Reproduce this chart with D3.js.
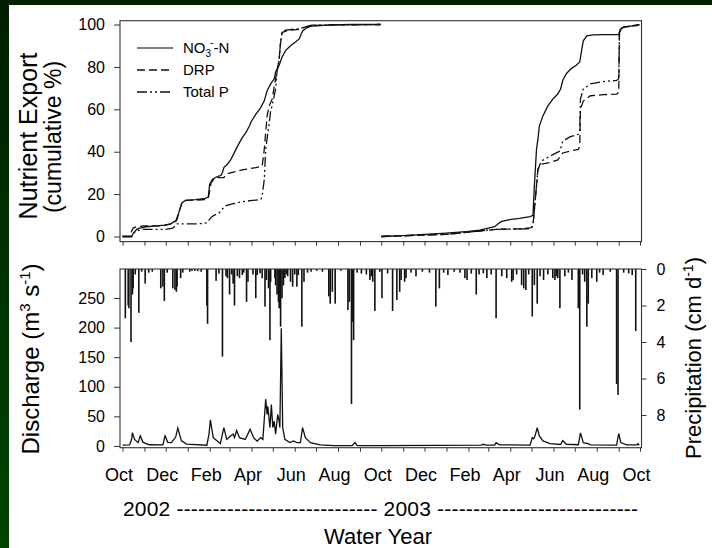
<!DOCTYPE html>
<html><head><meta charset="utf-8">
<script src="https://cdn.jsdelivr.net/npm/d3@7/dist/d3.min.js"></script>
<style>
html,body{margin:0;padding:0;background:#002a00;}
svg{display:block;font-family:"Liberation Sans",Arial,sans-serif;}
</style></head>
<body>
<svg id="c" width="712" height="548"></svg>
<script>
// ---------------- DATA ----------------
const monthTickLabels = ["Oct","Dec","Feb","Apr","Jun","Aug","Oct","Dec","Feb","Apr","Jun","Aug","Oct"];
const yearRowLabel = "2002 ---------------------------- 2003 ----------------------------";
const exportTicks = [0,20,40,60,80,100];
const dischargeTicks = [0,50,100,150,200,250];
const precipTicks = [0,2,4,6,8];
const seriesNames = ["NO3-N","DRP","Total P"];

const no3_2002 = [["2001-10-01",0],["2001-10-14",0],["2001-10-16",1.4],["2001-10-21",3.4],["2001-10-25",4],["2001-11-03",4.6],["2001-11-17",5],["2001-11-29",5.4],["2001-12-08",6],["2001-12-13",7],["2001-12-17",8],["2001-12-20",12],["2001-12-24",16],["2001-12-29",17],["2002-01-12",17.4],["2002-01-26",18],["2002-01-30",18.6],["2002-02-01",24.7],["2002-02-05",27],["2002-02-12",28.3],["2002-02-17",28.9],["2002-02-19",30.2],["2002-02-21",32.5],["2002-02-26",34.1],["2002-03-03",36.4],["2002-03-10",41.1],["2002-03-15",44.3],["2002-03-19",46.6],["2002-03-24",49],["2002-03-29",52.1],["2002-04-01",54.5],["2002-04-07",57.6],["2002-04-14",60.8],["2002-04-19",64],["2002-04-23",68.8],["2002-04-28",72],["2002-05-03",74.4],["2002-05-05",77.6],["2002-05-10",80.8],["2002-05-14",84.6],["2002-05-19",87.7],["2002-05-26",90],["2002-06-02",91.8],["2002-06-07",93.1],["2002-06-09",94.6],["2002-06-12",97],["2002-06-18",98.5],["2002-06-25",99.2],["2002-07-23",99.8],["2002-08-20",100],["2002-09-30",100]];
const drp_2002 = [["2001-10-01",0],["2001-10-12",0],["2001-10-14",2.6],["2001-10-16",4],["2001-10-21",4.6],["2001-10-30",5],["2001-11-27",5],["2001-12-08",6],["2001-12-15",7],["2001-12-20",12],["2001-12-24",16],["2001-12-29",17],["2002-01-26",17.4],["2002-01-30",18],["2002-02-03",25.5],["2002-02-07",27],["2002-02-12",27.8],["2002-02-21",27.8],["2002-02-24",29.4],["2002-03-05",30.2],["2002-03-19",31.4],["2002-04-07",32.5],["2002-04-16",33.3],["2002-04-19",41.1],["2002-04-21",49],["2002-04-23",56.9],["2002-04-26",61.6],["2002-04-30",64.8],["2002-05-05",74.4],["2002-05-10",83.8],["2002-05-12",91.5],["2002-05-14",96.2],["2002-05-19",96.9],["2002-05-28",97.4],["2002-06-07",97.7],["2002-06-16",98.9],["2002-06-25",99.5],["2002-07-23",99.8],["2002-09-30",100]];
const tp_2002 = [["2001-10-01",0],["2001-10-14",0],["2001-10-16",1.4],["2001-10-21",2.6],["2001-10-30",3.4],["2001-12-01",3.4],["2001-12-11",4],["2001-12-14",5],["2001-12-17",6],["2002-01-17",6],["2002-01-28",6.4],["2002-02-03",9],["2002-02-07",10],["2002-02-14",11],["2002-02-19",13],["2002-02-24",14.6],["2002-03-05",15.4],["2002-03-19",16.4],["2002-04-02",17],["2002-04-14",17.4],["2002-04-16",19],["2002-04-19",27],["2002-04-21",41.1],["2002-04-26",53.7],["2002-04-28",59.2],["2002-04-30",61.6],["2002-05-05",69.6],["2002-05-07",77.6],["2002-05-10",83.8],["2002-05-12",91.5],["2002-05-14",96.2],["2002-05-19",97.4],["2002-06-07",98],["2002-06-16",98.9],["2002-06-25",99.7],["2002-09-30",100]];
const no3_2003 = [["2002-10-01",0],["2002-10-31",0.4],["2002-12-01",1],["2003-01-01",1.6],["2003-02-01",2.4],["2003-02-17",3],["2003-03-01",4],["2003-03-10",4.6],["2003-03-15",6],["2003-03-19",7],["2003-03-31",8],["2003-04-14",8.6],["2003-04-29",9.4],["2003-05-03",10],["2003-05-05",23.9],["2003-05-08",41.1],["2003-05-10",45.9],["2003-05-12",52.1],["2003-05-17",56.9],["2003-05-24",61.6],["2003-05-31",64.8],["2003-06-07",67.2],["2003-06-11",69.6],["2003-06-14",73.6],["2003-06-19",76.8],["2003-06-26",79.2],["2003-07-03",80.8],["2003-07-08",82.3],["2003-07-11",88.5],["2003-07-13",92.3],["2003-07-18",94.6],["2003-07-27",95.1],["2003-08-10",95.2],["2003-09-01",95.2],["2003-09-03",97.7],["2003-09-08",98.9],["2003-09-17",99.2],["2003-09-27",99.5],["2003-09-30",100]];
const drp_2003 = [["2002-10-01",0],["2003-01-01",1],["2003-02-17",2.6],["2003-03-12",3.4],["2003-04-14",3.6],["2003-05-01",4.2],["2003-05-03",5],["2003-05-08",23.9],["2003-05-10",31.7],["2003-05-15",34.1],["2003-05-27",34.9],["2003-06-07",36.1],["2003-06-14",39.4],["2003-06-24",40.3],["2003-07-06",41.1],["2003-07-08",42.7],["2003-07-09",60],["2003-07-13",63.9],["2003-07-23",66.4],["2003-08-10",66.9],["2003-08-29",67.2],["2003-09-01",68],["2003-09-02",96.2],["2003-09-06",98.5],["2003-09-17",99.2],["2003-09-30",100]];
const tp_2003 = [["2002-10-01",0],["2003-01-01",1],["2003-02-17",2.6],["2003-03-12",3.4],["2003-04-29",3.6],["2003-05-03",5],["2003-05-08",23.9],["2003-05-10",31.7],["2003-05-15",35.6],["2003-05-27",37.9],["2003-06-10",40.3],["2003-06-14",44.9],["2003-06-24",47],["2003-07-06",48.2],["2003-07-08",49.8],["2003-07-09",64.8],["2003-07-13",69.6],["2003-07-23",72],["2003-08-10",73.1],["2003-08-29",73.6],["2003-09-01",74.4],["2003-09-02",96.2],["2003-09-06",98.5],["2003-09-30",100]];

const discharge = [["2001-10-01",1.5],["2001-10-11",1.7],["2001-10-14",12],["2001-10-15",22.5],["2001-10-18",11],["2001-10-23",5.6],["2001-10-26",17],["2001-10-30",6],["2001-11-08",2],["2001-11-27",1.7],["2001-11-30",17],["2001-12-04",6],["2001-12-09",5.6],["2001-12-15",15],["2001-12-18",30],["2001-12-23",9],["2001-12-30",3],["2002-01-28",1.2],["2002-01-31",20],["2002-02-02",44],["2002-02-06",14],["2002-02-16",4],["2002-02-21",31],["2002-02-25",11],["2002-03-03",17],["2002-03-06",20],["2002-03-08",14],["2002-03-11",26],["2002-03-15",14],["2002-03-23",11],["2002-03-30",28],["2002-04-04",14],["2002-04-09",8],["2002-04-14",14],["2002-04-17",11],["2002-04-21",79],["2002-04-23",53],["2002-04-24",67],["2002-04-27",31],["2002-04-29",70],["2002-05-01",31],["2002-05-03",42],["2002-05-05",20],["2002-05-08",53],["2002-05-10",42],["2002-05-11",31],["2002-05-13",199],["2002-05-15",31],["2002-05-18",11],["2002-05-25",5.6],["2002-05-30",8.4],["2002-06-04",5.6],["2002-06-09",5.6],["2002-06-12",31],["2002-06-16",14],["2002-06-23",5.6],["2002-07-07",1.7],["2002-07-26",0.5],["2002-08-21",0.5],["2002-08-25",5.6],["2002-08-28",0.5],["2002-09-30",0.5],["2002-12-18",1],["2003-02-19",1.5],["2003-02-22",2.8],["2003-02-26",1.5],["2003-03-10",1.5],["2003-03-12",5.6],["2003-03-17",1.7],["2003-04-29",1.5],["2003-05-02",14],["2003-05-04",12],["2003-05-06",17],["2003-05-09",31],["2003-05-12",17],["2003-05-17",8.4],["2003-05-27",3.9],["2003-06-11",2.5],["2003-06-14",9],["2003-06-19",2.8],["2003-07-06",2],["2003-07-09",22],["2003-07-13",5.6],["2003-07-20",3.9],["2003-07-23",1.7],["2003-08-29",1.5],["2003-09-01",21],["2003-09-04",5.6],["2003-09-12",1.7],["2003-09-27",1.7],["2003-09-28",4],["2003-09-30",1.1]];

const precipitation = [["2001-10-05",2.7],["2001-10-09",2.0],["2001-10-10",2.15],["2001-10-13",4.0],["2001-10-15",1.4],["2001-10-16",1.06],["2001-10-19",0.3],["2001-10-24",2.4],["2001-10-28",0.15],["2001-11-02",0.8],["2001-11-07",0.2],["2001-11-12",0.15],["2001-11-24",1.06],["2001-11-27",0.97],["2001-11-29",1.75],["2001-12-03",0.2],["2001-12-11",1.06],["2001-12-14",1.15],["2001-12-16",1.25],["2001-12-17",0.97],["2001-12-22",0.5],["2001-12-25",0.2],["2002-01-04",0.15],["2002-01-07",0.1],["2002-01-11",0.1],["2002-01-15",0.12],["2002-01-20",0.15],["2002-01-28",2.0],["2002-01-29",3.0],["2002-02-10",0.65],["2002-02-14",0.25],["2002-02-19",4.8],["2002-02-24",0.4],["2002-02-26",0.5],["2002-03-01",1.4],["2002-03-04",0.3],["2002-03-06",0.8],["2002-03-08",2.0],["2002-03-12",0.4],["2002-03-15",0.5],["2002-03-19",0.33],["2002-03-21",0.2],["2002-03-25",1.8],["2002-03-27",0.7],["2002-04-03",0.3],["2002-04-07",1.6],["2002-04-09",0.33],["2002-04-13",0.24],["2002-04-16",0.5],["2002-04-20",2.06],["2002-04-22",0.6],["2002-04-25",1.06],["2002-04-27",3.9],["2002-04-28",0.7],["2002-05-04",0.5],["2002-05-05",0.9],["2002-05-07",1.4],["2002-05-09",1.8],["2002-05-10",2.15],["2002-05-12",3.16],["2002-05-14",1.6],["2002-05-16",0.9],["2002-05-18",0.5],["2002-05-20",0.3],["2002-05-22",0.4],["2002-05-26",0.7],["2002-05-29",0.97],["2002-06-01",0.3],["2002-06-04",0.97],["2002-06-06",0.33],["2002-06-11",3.16],["2002-06-14",0.7],["2002-06-19",0.2],["2002-06-24",0.15],["2002-07-02",0.1],["2002-07-10",0.15],["2002-07-19",1.5],["2002-07-21",1.9],["2002-07-24",1.25],["2002-07-28",1.9],["2002-08-05",0.1],["2002-08-15",2.25],["2002-08-17",1.8],["2002-08-20",7.4],["2002-08-21",2.9],["2002-08-23",3.9],["2002-08-28",0.2],["2002-09-03",0.25],["2002-09-10",0.3],["2002-09-15",0.6],["2002-09-17",0.4],["2002-09-19",0.7],["2002-09-22",2.3],["2002-09-29",0.15],["2002-10-02",1.6],["2002-10-10",0.24],["2002-10-17",2.3],["2002-10-23",1.7],["2002-10-27",1.25],["2002-10-29",0.6],["2002-11-03",0.7],["2002-11-05",0.5],["2002-11-12",0.2],["2002-11-19",0.4],["2002-11-28",0.15],["2002-12-08",0.2],["2002-12-17",2.06],["2002-12-22",1.06],["2002-12-28",0.2],["2003-01-03",0.33],["2003-01-12",0.15],["2003-01-20",0.2],["2003-01-27",0.5],["2003-01-30",0.6],["2003-02-05",0.25],["2003-02-12",1.4],["2003-02-16",0.3],["2003-02-22",0.24],["2003-02-27",0.5],["2003-03-05",0.3],["2003-03-12",2.7],["2003-03-20",0.4],["2003-03-27",0.5],["2003-04-03",0.7],["2003-04-05",0.6],["2003-04-10",0.3],["2003-04-17",0.88],["2003-04-20",1.06],["2003-04-23",1.15],["2003-04-27",0.3],["2003-05-02",2.6],["2003-05-05",0.88],["2003-05-09",1.9],["2003-05-13",0.4],["2003-05-18",0.6],["2003-05-24",0.3],["2003-05-31",0.5],["2003-06-03",0.6],["2003-06-05",0.4],["2003-06-07",0.5],["2003-06-10",2.15],["2003-06-17",0.4],["2003-06-22",0.2],["2003-06-27",0.6],["2003-07-06",2.15],["2003-07-08",7.7],["2003-07-12",0.3],["2003-07-15",0.7],["2003-07-18",3.16],["2003-07-20",1.9],["2003-07-25",0.5],["2003-08-01",0.7],["2003-08-05",0.2],["2003-08-10",0.33],["2003-08-20",0.15],["2003-08-29",6.3],["2003-08-31",6.9],["2003-09-08",0.2],["2003-09-15",0.24],["2003-09-20",0.33],["2003-09-25",3.4]];

// ---------------- CHART ----------------
const parse = d3.timeParse("%Y-%m-%d");
const svg = d3.select("#c");
const defs = svg.append("defs");
const grad = defs.append("linearGradient").attr("id","bg").attr("x1",0).attr("y1",0).attr("x2",0).attr("y2",1);
grad.append("stop").attr("offset","0%").attr("stop-color","#001f00");
grad.append("stop").attr("offset","100%").attr("stop-color","#004400");
svg.append("rect").attr("width",712).attr("height",548).attr("fill","url(#bg)");
svg.append("rect").attr("x",9).attr("y",5).attr("width",703).attr("height",543).attr("fill","#fff");

const L = 120, R = 641.5;
const x = d3.scaleTime().domain([parse("2001-10-01"), parse("2003-10-01")]).range([122.5, 640]);
const yTop = d3.scaleLinear().domain([-2.4, 101.8]).range([241.6, 20.7]);
const yQ = d3.scaleLinear().domain([-3, 299]).range([447.7, 269]);
const yP = d3.scaleLinear().domain([0, 9.79]).range([269, 447.7]);

const ink = "#111";
const fontTick = 16;

// --- top panel ---
const gTop = svg.append("g");
const line = d3.line().x(d => x(parse(d[0]))).y(d => yTop(d[1]));
const styles = {
  "NO3-N": {dash: null},
  "DRP": {dash: "8,4"},
  "Total P": {dash: "10,3,2,3,2,3"}
};
[[no3_2002,"NO3-N"],[drp_2002,"DRP"],[tp_2002,"Total P"],[no3_2003,"NO3-N"],[drp_2003,"DRP"],[tp_2003,"Total P"]].forEach(([data,name])=>{
  gTop.append("path").datum(data).attr("d", line).attr("fill","none")
    .attr("stroke", ink).attr("stroke-width",1.3)
    .attr("stroke-dasharray", styles[name].dash);
});
gTop.append("rect").attr("x",L).attr("y",yTop.range()[1]).attr("width",R-L).attr("height",yTop.range()[0]-yTop.range()[1])
  .attr("fill","none").attr("stroke","#333").attr("stroke-width",1.1);

const yAx = gTop.append("g").attr("transform",`translate(${L},0)`)
  .call(d3.axisLeft(yTop).tickValues(exportTicks).tickSize(6).tickPadding(9));
yAx.select(".domain").remove();
yAx.selectAll("text").attr("font-size",fontTick).attr("fill","#000").attr("font-family","Liberation Sans, Arial, sans-serif");
yAx.selectAll("line").attr("stroke","#333");

const xAxTop = gTop.append("g").attr("transform",`translate(0,${yTop.range()[0]})`)
  .call(d3.axisBottom(x).ticks(d3.timeMonth.every(1)).tickSize(4).tickFormat(""));
xAxTop.select(".domain").remove();
xAxTop.selectAll("line").attr("stroke","#333");

// legend
const leg = gTop.append("g").attr("font-size",15);
seriesNames.forEach((n,i)=>{
  const yy = 48 + i*22;
  leg.append("line").attr("x1",137).attr("x2",173).attr("y1",yy).attr("y2",yy)
    .attr("stroke", i===0 ? "#555" : ink).attr("stroke-width",1.3).attr("stroke-dasharray", styles[n].dash);
});
const t0 = leg.append("text").attr("x",183).attr("y",53);
t0.append("tspan").text("NO");
t0.append("tspan").attr("font-size",10).attr("dy",4).text("3");
t0.append("tspan").attr("font-size",10).attr("dx",-1).attr("dy",-11).text("-");
t0.append("tspan").attr("dy",7).text("-N");
leg.append("text").attr("x",183).attr("y",75).text("DRP");
leg.append("text").attr("x",183).attr("y",97).text("Total P");

// --- bottom panel ---
const bot = svg.append("g");
bot.selectAll("rect.p").data(precipitation).enter().append("rect").attr("class","p")
  .attr("x", d => x(parse(d[0])) - 0.8).attr("width",1.6)
  .attr("y", yP(0)).attr("height", d => yP(d[1]) - yP(0)).attr("fill",ink);
const qline = d3.line().x(d => x(parse(d[0]))).y(d => yQ(d[1]));
bot.append("path").datum(discharge).attr("d",qline).attr("fill","none").attr("stroke",ink).attr("stroke-width",1.3);
bot.append("rect").attr("x",L).attr("y",269).attr("width",R-L).attr("height",447.7-269)
  .attr("fill","none").attr("stroke","#333").attr("stroke-width",1.1);

const qAx = bot.append("g").attr("transform",`translate(${L},0)`)
  .call(d3.axisLeft(yQ).tickValues(dischargeTicks).tickSize(6).tickPadding(9));
qAx.select(".domain").remove();
qAx.selectAll("text").attr("font-size",fontTick).attr("fill","#000");
qAx.selectAll("line").attr("stroke","#333");

const pAx = bot.append("g").attr("transform",`translate(${R},0)`)
  .call(d3.axisRight(yP).tickValues(precipTicks).tickSize(5).tickPadding(10));
pAx.select(".domain").remove();
pAx.selectAll("text").attr("font-size",fontTick).attr("fill","#000");
pAx.selectAll("line").attr("stroke","#333");

const xAx = bot.append("g").attr("transform",`translate(0,447.7)`)
  .call(d3.axisBottom(x).ticks(d3.timeMonth.every(1)).tickSize(4).tickPadding(17)
  .tickFormat((d,i)=> i%2===0 ? monthTickLabels[i/2] : ""));
xAx.select(".domain").remove();
xAx.selectAll("line").attr("stroke","#333");
xAx.selectAll("text").attr("font-size",18).attr("fill","#000").attr("dx",-4);

// year row & title
svg.append("text").attr("x",123).attr("y",516).attr("font-size",21).attr("textLength",515).attr("lengthAdjust","spacing").text(yearRowLabel);
svg.append("text").attr("x",378).attr("y",544).attr("text-anchor","middle").attr("font-size",22).text("Water Year");

// axis titles
svg.append("text").attr("transform","translate(37,136) rotate(-90)").attr("text-anchor","middle").attr("font-size",25).text("Nutrient Export");
svg.append("text").attr("transform","translate(61,137) rotate(-90)").attr("text-anchor","middle").attr("font-size",23).text("(cumulative %)");
const tq = svg.append("text").attr("transform","translate(39,359) rotate(-90)").attr("text-anchor","middle").attr("font-size",24);
tq.append("tspan").text("Discharge (m");
tq.append("tspan").attr("font-size",15).attr("dy",-9).text("3");
tq.append("tspan").attr("dy",9).text(" s");
tq.append("tspan").attr("font-size",15).attr("dy",-9).text("-1");
tq.append("tspan").attr("dy",9).text(")");
const tp = svg.append("text").attr("transform","translate(701,358) rotate(-90)").attr("text-anchor","middle").attr("font-size",22);
tp.append("tspan").text("Precipitation (cm d");
tp.append("tspan").attr("font-size",14).attr("dy",-8).text("-1");
tp.append("tspan").attr("dy",8).text(")");
</script>
</body></html>
